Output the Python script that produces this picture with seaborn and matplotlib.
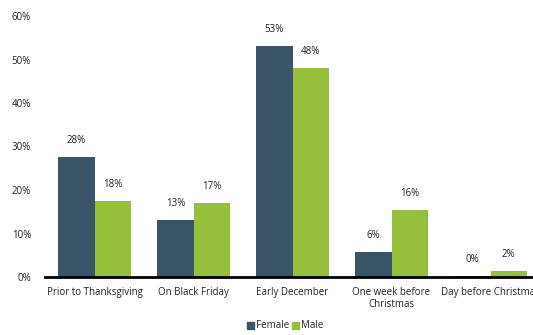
import matplotlib
matplotlib.use("Agg")
import matplotlib.pyplot as plt
import seaborn as sns
import pandas as pd
from matplotlib.patches import Patch

categories = ["Prior to Thanksgiving", "On Black Friday", "Early December",
              "One week before\nChristmas", "Day before Christmas"]
female = [27.6, 13.1, 53.1, 5.7, 0.3]
male = [17.5, 17.0, 48.0, 15.4, 1.4]
female_labels = ["28%", "13%", "53%", "6%", "0%"]
male_labels = ["18%", "17%", "48%", "16%", "2%"]
yticks = [0, 10, 20, 30, 40, 50, 60]
ytick_labels = ["0%", "10%", "20%", "30%", "40%", "50%", "60%"]

c_f = "#3a5468"
c_m = "#96c03c"

sns.set_style("white")
plt.rcParams["font.family"] = ["Open Sans", "DejaVu Sans"]

df = pd.DataFrame({
    "cat": categories * 2,
    "val": female + male,
    "sex": ["Female"] * 5 + ["Male"] * 5,
})

fig = plt.figure(figsize=(5.33, 3.35), dpi=100)
ax = fig.add_axes([45 / 533, 1 - 277 / 335, 495 / 533, 261 / 335])
sns.barplot(data=df, x="cat", y="val", hue="sex", palette=[c_f, c_m],
            width=0.73, gap=0, ax=ax, legend=False, saturation=1, linewidth=0)

ax.set_ylim(0, 60)
ax.set_xlim(-0.5, 4.5)
ax.set_yticks(yticks)
ax.set_yticklabels(ytick_labels, fontsize=7, color="#222222")
ax.tick_params(axis="x", labelsize=7, colors="#222222", length=0, pad=7)
ax.tick_params(axis="y", length=0, pad=10)
ax.set_xlabel("")
ax.set_ylabel("")
for s in ["top", "right", "left"]:
    ax.spines[s].set_visible(False)
ax.spines["bottom"].set_color("black")
ax.spines["bottom"].set_linewidth(2)

for cont, labels in zip(ax.containers, [female_labels, male_labels]):
    ax.bar_label(cont, labels=labels, padding=8, fontsize=7, color="#222222")

handles = [Patch(color=c_f, label="Female"), Patch(color=c_m, label="Male")]
fig.legend(handles=handles, loc="center", bbox_to_anchor=(285 / 533, 1 - 326 / 335),
           ncol=2, frameon=False, fontsize=7, handlelength=0.7, handleheight=0.7,
           handletextpad=0.2, columnspacing=0.3)

fig.savefig("out.png", dpi=100)
